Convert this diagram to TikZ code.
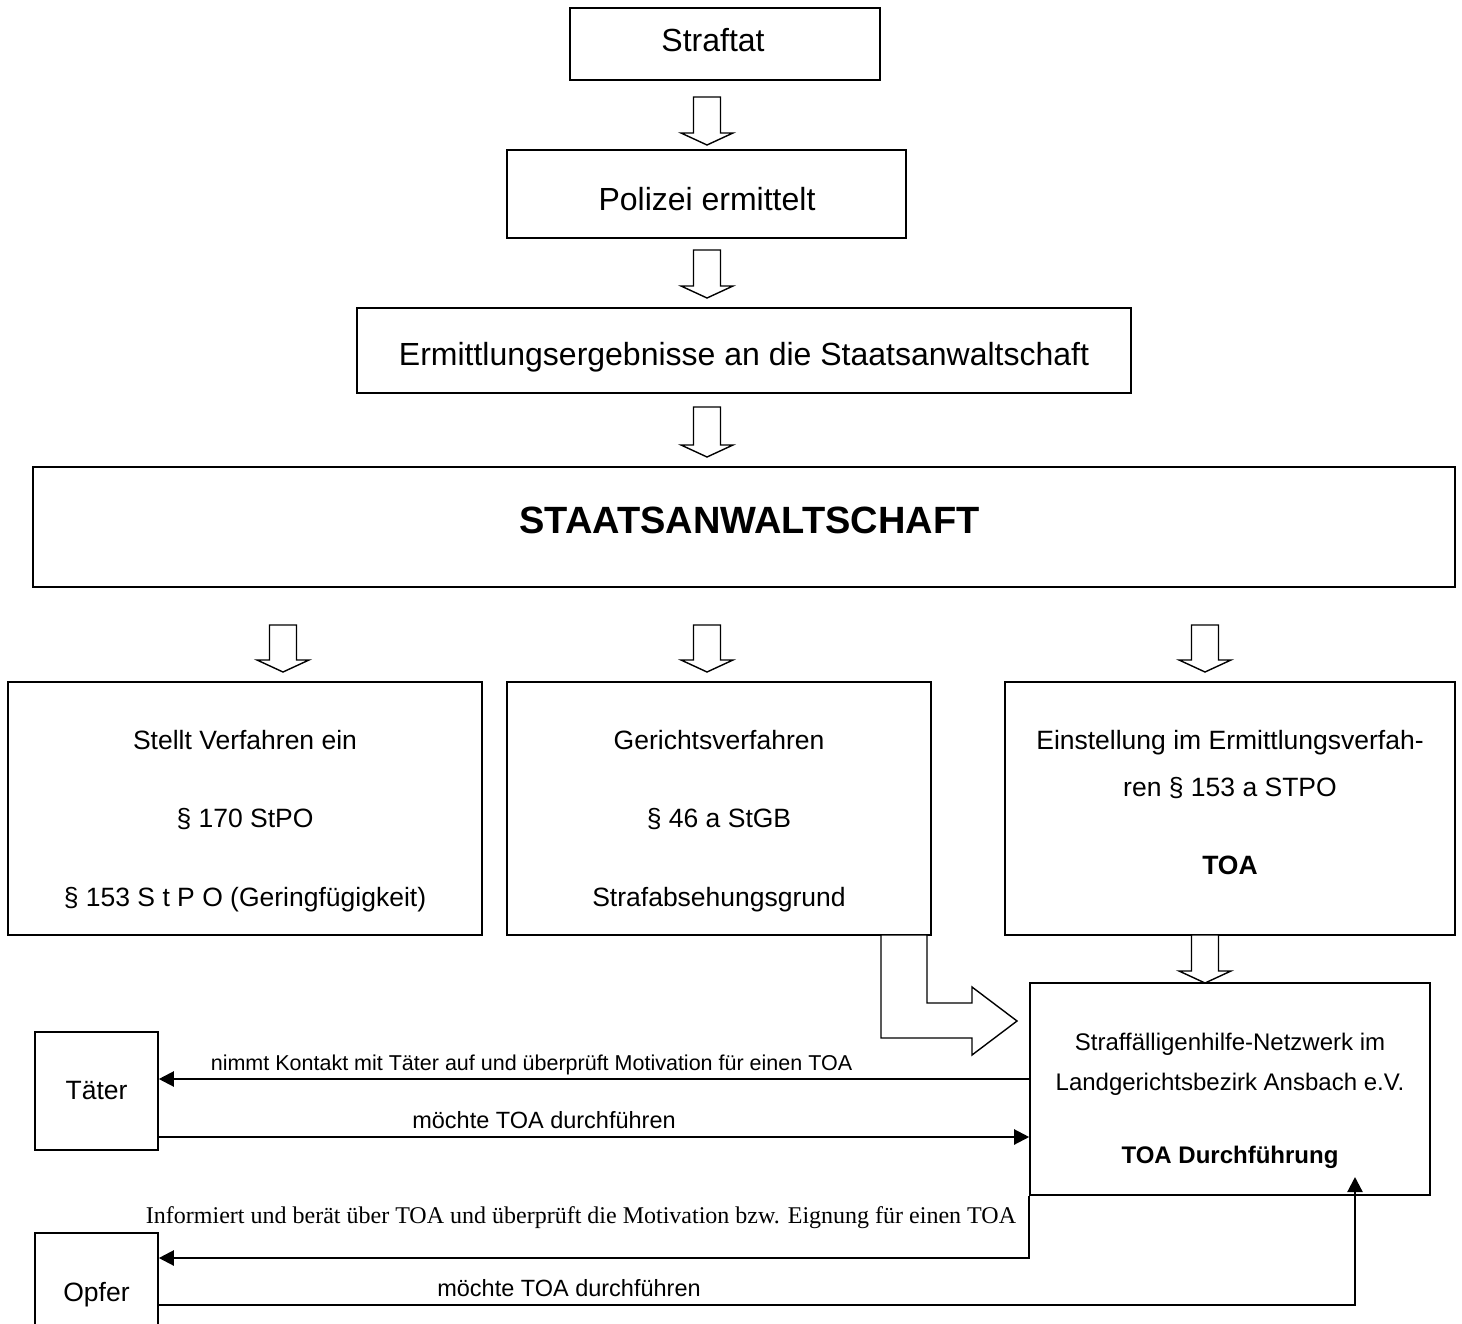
\documentclass[tikz,border=0pt]{standalone}
\usepackage{fontspec}
\setmainfont{Liberation Sans}
\newfontfamily\timesfont{Liberation Serif}
\usetikzlibrary{arrows.meta,calc}
\newcommand\setfs[1]{\fontsize{#1}{#1}\selectfont}
\begin{document}
\begin{tikzpicture}[x=1pt,y=-1pt,
  box/.style={draw,line width=1.6pt,inner sep=0pt},
  txt/.style={inner sep=0pt,anchor=base},
  boxtxt/.style={txt,font=\setfs{26.5}},
  conn/.style={line width=2.2pt,-{Triangle[length=15pt,width=15pt]}},
  harrow/.style={draw,line width=1.4pt,fill=white,line join=miter},
  pics/hollow/.style={code={\draw[harrow] (-13.5,0) -- (-13.5,#1) -- (-26,#1) -- (0,#1+12) -- (26,#1) -- (13.5,#1) -- (13.5,0) -- cycle;}}
]
\useasboundingbox (0,0) rectangle (1462,1324);
\fill[white] (0,0) rectangle (1462,1324);
\clip (0,0) rectangle (1462,1324);

% boxes
\node[box,minimum width=310pt,minimum height=72pt] (straftat) at (725,44) {};
\node[box,minimum width=399pt,minimum height=88pt] (polizei) at (706.5,194) {};
\node[box,minimum width=774pt,minimum height=85pt] (ergeb) at (744,350.5) {};
\node[box,minimum width=1422pt,minimum height=120pt] (sta) at (744,527) {};
\node[box,minimum width=474pt,minimum height=253pt] (boxA) at (245,808.5) {};
\node[box,minimum width=424pt,minimum height=253pt] (boxB) at (719,808.5) {};
\node[box,minimum width=450pt,minimum height=253pt] (boxC) at (1230,808.5) {};
\node[box,minimum width=400pt,minimum height=212pt] (boxD) at (1230,1089) {};
\node[box,minimum width=123pt,minimum height=118pt] (taeter) at (96.5,1091) {};
\node[box,minimum width=123pt,minimum height=100pt] (opfer) at (96.5,1283) {};

% box texts
\node[txt,font=\setfs{32}] (tStraftat) at (713,51.5) {Straftat};
\node[txt,font=\setfs{32}] (tPolizei) at (707,210.5) {Polizei ermittelt};
\node[txt,font=\setfs{32}] (tErgeb) at (744,366) {Ermittlungsergebnisse an die Staatsanwaltschaft};
\node[txt,font=\setfs{38}\bfseries] (tSta) at (749.5,533.5) {STAATSANWALTSCHAFT};

\node[boxtxt] (tA1) at (245,749.5) {Stellt Verfahren ein};
\node[boxtxt] (tA2) at (245,827.5) {§ 170 StPO};
\node[boxtxt] (tA3) at (245,906.5) {§ 153 S t P O (Geringfügigkeit)};

\node[boxtxt] (tB1) at (719,749.5) {Gerichtsverfahren};
\node[boxtxt] (tB2) at (719,827.5) {§ 46 a StGB};
\node[boxtxt] (tB3) at (719,906.5) {Strafabsehungsgrund};

\node[boxtxt] (tC1) at (1230,749.5) {Einstellung im Ermittlungsverfah-};
\node[boxtxt] (tC2) at (1230,796.5) {ren § 153 a STPO};
\node[boxtxt,font=\setfs{26.5}\bfseries] (tC3) at (1230,874.5) {TOA};

\node[txt,font=\setfs{24}] (tD1) at (1230,1050.5) {Straffälligenhilfe-Netzwerk im};
\node[txt,font=\setfs{24}] (tD2) at (1230,1090.5) {Landgerichtsbezirk Ansbach e.V.};
\node[txt,font=\setfs{24}\bfseries] (tD3) at (1230,1163.5) {TOA Durchführung};

\node[boxtxt] (tTaeter) at (96.5,1099.5) {Täter};
\node[boxtxt] (tOpfer) at (96.5,1301.5) {Opfer};

% hollow block arrows
\pic at (707,97) {hollow=36};
\pic at (707,250) {hollow=36};
\pic at (707,407) {hollow=38};
\pic at (283,625) {hollow=35};
\pic at (707,625) {hollow=35};
\pic at (1205,625) {hollow=35};
\pic at (1205,935) {hollow=36};
\draw[harrow] (881,935) -- (881,1038) -- (972,1038) -- (972,1055) -- (1017,1021)
  -- (972,987) -- (972,1003) -- (927,1003) -- (927,935) -- cycle;

% connectors
\coordinate (l1) at (0,1079);
\coordinate (l2) at (0,1137);
\coordinate (l3) at (0,1258);
\coordinate (l4) at (0,1305);
\coordinate (l4tip) at (1355,1177);
\draw[conn] (boxD.west |- l1) -- (taeter.east |- l1);
\draw[conn] (taeter.east |- l2) -- (boxD.west |- l2);
\draw[conn] (boxD.south west) -- (boxD.south west |- l3) -- (opfer.east |- l3);
\draw[conn] (opfer.east |- l4) -- (l4tip |- l4) -- (l4tip);

% connector labels
\node[txt,font=\setfs{21.5}] (lab1) at (531.5,1070) {nimmt Kontakt mit Täter auf und überprüft Motivation für einen TOA};
\node[txt,font=\setfs{23.5}] (lab2) at (544,1128) {möchte TOA durchführen};
\node[txt,font=\timesfont\setfs{24}] (lab3) at (581,1223) {Informiert und berät über TOA und überprüft die Motivation bzw. Eignung für einen TOA};
\node[txt,font=\setfs{23.5}] (lab4) at (569,1296) {möchte TOA durchführen};
\end{tikzpicture}
\end{document}
